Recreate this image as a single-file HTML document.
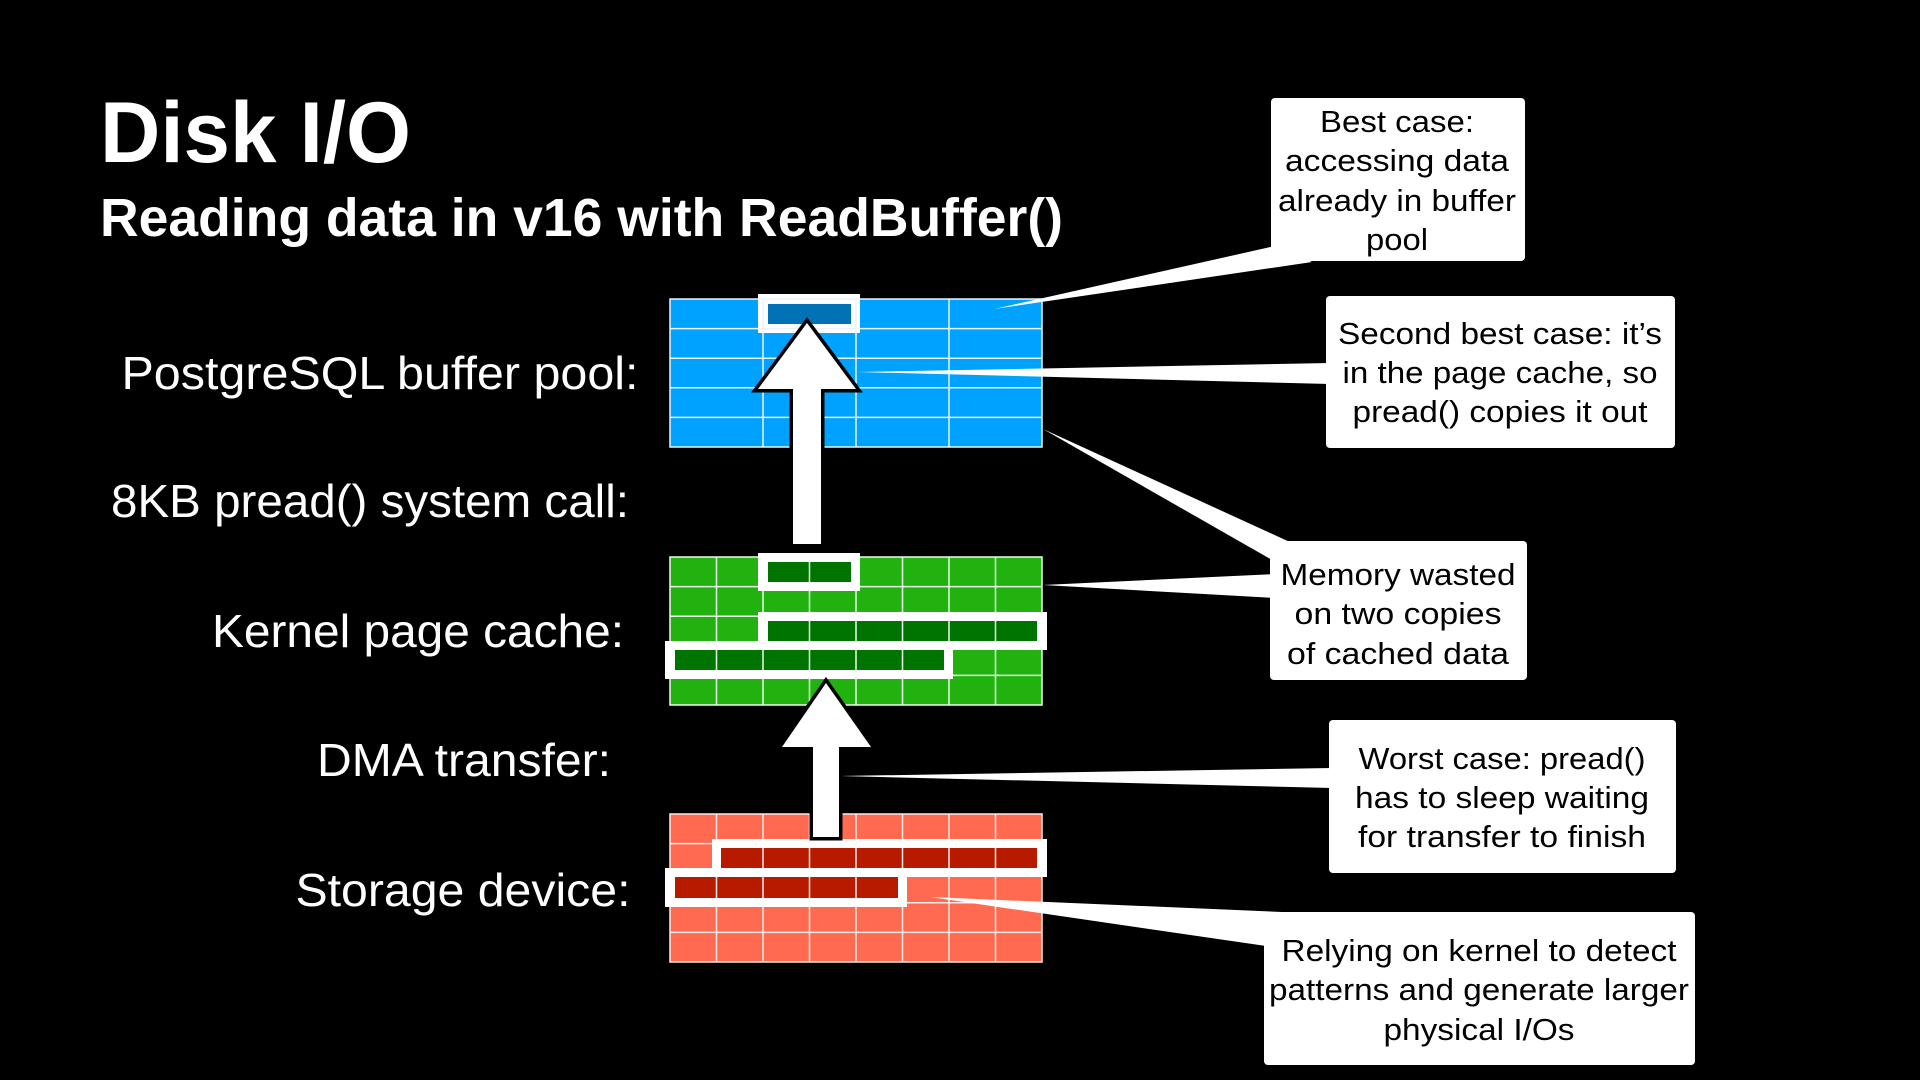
<!DOCTYPE html>
<html><head><meta charset="utf-8"><style>
html,body{margin:0;padding:0;background:#000;width:1920px;height:1080px;overflow:hidden}
svg{display:block}
text{font-family:"Liberation Sans",Arial,sans-serif;fill:#fff}
.c{fill:#000;font-size:31px;text-anchor:middle}
.l{font-size:46px;text-anchor:middle}
</style></head><body>
<svg width="1920" height="1080" viewBox="0 0 1920 1080">
<rect width="1920" height="1080" fill="#000"/>
<text x="100" y="162" font-size="86" font-weight="bold" textLength="311" lengthAdjust="spacingAndGlyphs">Disk I/O</text>
<text x="100" y="236" font-size="54" font-weight="bold" textLength="963" lengthAdjust="spacingAndGlyphs">Reading data in v16 with ReadBuffer()</text>

<text class="l" x="380" y="389" textLength="517" lengthAdjust="spacingAndGlyphs">PostgreSQL buffer pool:</text>
<text class="l" x="370" y="517" textLength="518" lengthAdjust="spacingAndGlyphs">8KB pread() system call:</text>
<text class="l" x="418" y="647" textLength="412" lengthAdjust="spacingAndGlyphs">Kernel page cache:</text>
<text class="l" x="464" y="776" textLength="294" lengthAdjust="spacingAndGlyphs">DMA transfer:</text>
<text class="l" x="463" y="906" textLength="335" lengthAdjust="spacingAndGlyphs">Storage device:</text>

<!-- blue grid -->
<rect x="670" y="299" width="372" height="148" fill="#00a2ff"/>
<rect x="758" y="294" width="102" height="39" fill="#fff"/>
<rect x="768" y="304" width="83" height="20" fill="#0072b5"/>
<g stroke="#e8f4ff" stroke-width="1.5" fill="none">
<rect x="670" y="299" width="372" height="148"/>
<path d="M763 299V447M856 299V447M949 299V447M670 328.6H1042M670 358.2H1042M670 387.8H1042M670 417.4H1042"/>
</g>

<!-- green grid -->
<rect x="670" y="557" width="372" height="148" fill="#22b20f"/>
<rect x="758" y="553" width="102" height="38" fill="#fff"/>
<rect x="768" y="562" width="83" height="20" fill="#007400"/>
<rect x="758" y="612" width="289" height="38" fill="#fff"/>
<rect x="768" y="621" width="269" height="20" fill="#007400"/>
<rect x="665" y="641" width="288" height="38" fill="#fff"/>
<rect x="675" y="650" width="269" height="20" fill="#007400"/>
<g stroke="#e8ffe8" stroke-width="1.5" fill="none">
<rect x="670" y="557" width="372" height="148"/>
<path d="M716.5 557V705M763 557V705M809.5 557V705M856 557V705M902.5 557V705M949 557V705M995.5 557V705M670 586.6H1042M670 616.2H1042M670 645.8H1042M670 675.4H1042"/>
</g>
<g fill="#fff">
<path d="M758 553h102v9h-102zM758 582h102v9h-102zM758 553h10v38h-10zM851 553h9v38h-9z"/>
<path d="M758 612h289v9h-289zM758 641h289v9h-289zM758 612h10v38h-10zM1037 612h10v38h-10z"/>
<path d="M665 641h288v9h-288zM665 670h288v9h-288zM665 641h10v38h-10zM944 641h9v38h-9z"/>
</g>

<!-- red grid -->
<rect x="670" y="814" width="372" height="148" fill="#ff6a50"/>
<rect x="712" y="839" width="335" height="38" fill="#fff"/>
<rect x="721" y="848" width="316" height="20" fill="#b81a00"/>
<rect x="665" y="868" width="242" height="39" fill="#fff"/>
<rect x="675" y="877" width="223" height="21" fill="#b81a00"/>
<g stroke="#ffeae6" stroke-width="1.5" fill="none">
<rect x="670" y="814" width="372" height="148"/>
<path d="M716.5 814V962M763 814V962M809.5 814V962M856 814V962M902.5 814V962M949 814V962M995.5 814V962M670 843.6H1042M670 873.2H1042M670 902.8H1042M670 932.4H1042"/>
</g>
<g fill="#fff">
<path d="M712 839h335v9h-335zM712 868h335v9h-335zM712 839h9v38h-9zM1037 839h10v38h-10z"/>
<path d="M665 868h242v9h-242zM665 898h242v9h-242zM665 868h10v39h-10zM898 868h9v39h-9z"/>
</g>

<!-- callout wedges -->
<g fill="#fff">
<polygon points="994,309 1275,246 1312,262"/>
<polygon points="857,372 1330,363 1330,384"/>
<polygon points="1043,429 1292,543 1272,560"/>
<polygon points="1043,585 1275,574 1275,598"/>
<polygon points="840,776 1332,768 1332,788"/>
<polygon points="930,897 1330,914 1266,946"/>
</g>

<!-- arrows -->
<polygon points="807,323 856,389 821,389 821,544 793,544 793,389 758,389" fill="#fff" stroke="#000" stroke-width="7" stroke-linejoin="miter" paint-order="stroke"/>
<polygon points="826,683 871,747 839,747 839,837 813,837 813,747 782,747" fill="#fff" stroke="#000" stroke-width="7" stroke-linejoin="miter" paint-order="stroke"/>

<!-- callout boxes -->
<g fill="#fff">
<rect x="1271" y="98" width="254" height="163" rx="4"/>
<rect x="1326" y="296" width="349" height="152" rx="4"/>
<rect x="1270" y="541" width="257" height="139" rx="4"/>
<rect x="1329" y="720" width="347" height="153" rx="4"/>
<rect x="1264" y="912" width="431" height="153" rx="4"/>
</g>
<text class="c" x="1397" y="132" textLength="154" lengthAdjust="spacingAndGlyphs">Best case:</text>
<text class="c" x="1397" y="171" textLength="224" lengthAdjust="spacingAndGlyphs">accessing data</text>
<text class="c" x="1397" y="211" textLength="238" lengthAdjust="spacingAndGlyphs">already in buffer</text>
<text class="c" x="1397" y="250" textLength="62" lengthAdjust="spacingAndGlyphs">pool</text>

<text class="c" x="1500" y="344" textLength="324" lengthAdjust="spacingAndGlyphs">Second best case: it’s</text>
<text class="c" x="1500" y="383" textLength="315" lengthAdjust="spacingAndGlyphs">in the page cache, so</text>
<text class="c" x="1500" y="422" textLength="295" lengthAdjust="spacingAndGlyphs">pread() copies it out</text>

<text class="c" x="1398" y="585" textLength="235" lengthAdjust="spacingAndGlyphs">Memory wasted</text>
<text class="c" x="1398" y="624" textLength="207" lengthAdjust="spacingAndGlyphs">on two copies</text>
<text class="c" x="1398" y="664" textLength="222" lengthAdjust="spacingAndGlyphs">of cached data</text>

<text class="c" x="1502" y="769" textLength="287" lengthAdjust="spacingAndGlyphs">Worst case: pread()</text>
<text class="c" x="1502" y="808" textLength="294" lengthAdjust="spacingAndGlyphs">has to sleep waiting</text>
<text class="c" x="1502" y="847" textLength="288" lengthAdjust="spacingAndGlyphs">for transfer to finish</text>

<text class="c" x="1479" y="961" textLength="395" lengthAdjust="spacingAndGlyphs">Relying on kernel to detect</text>
<text class="c" x="1479" y="1000" textLength="420" lengthAdjust="spacingAndGlyphs">patterns and generate larger</text>
<text class="c" x="1479" y="1040" textLength="191" lengthAdjust="spacingAndGlyphs">physical I/Os</text>
</svg>
</body></html>
